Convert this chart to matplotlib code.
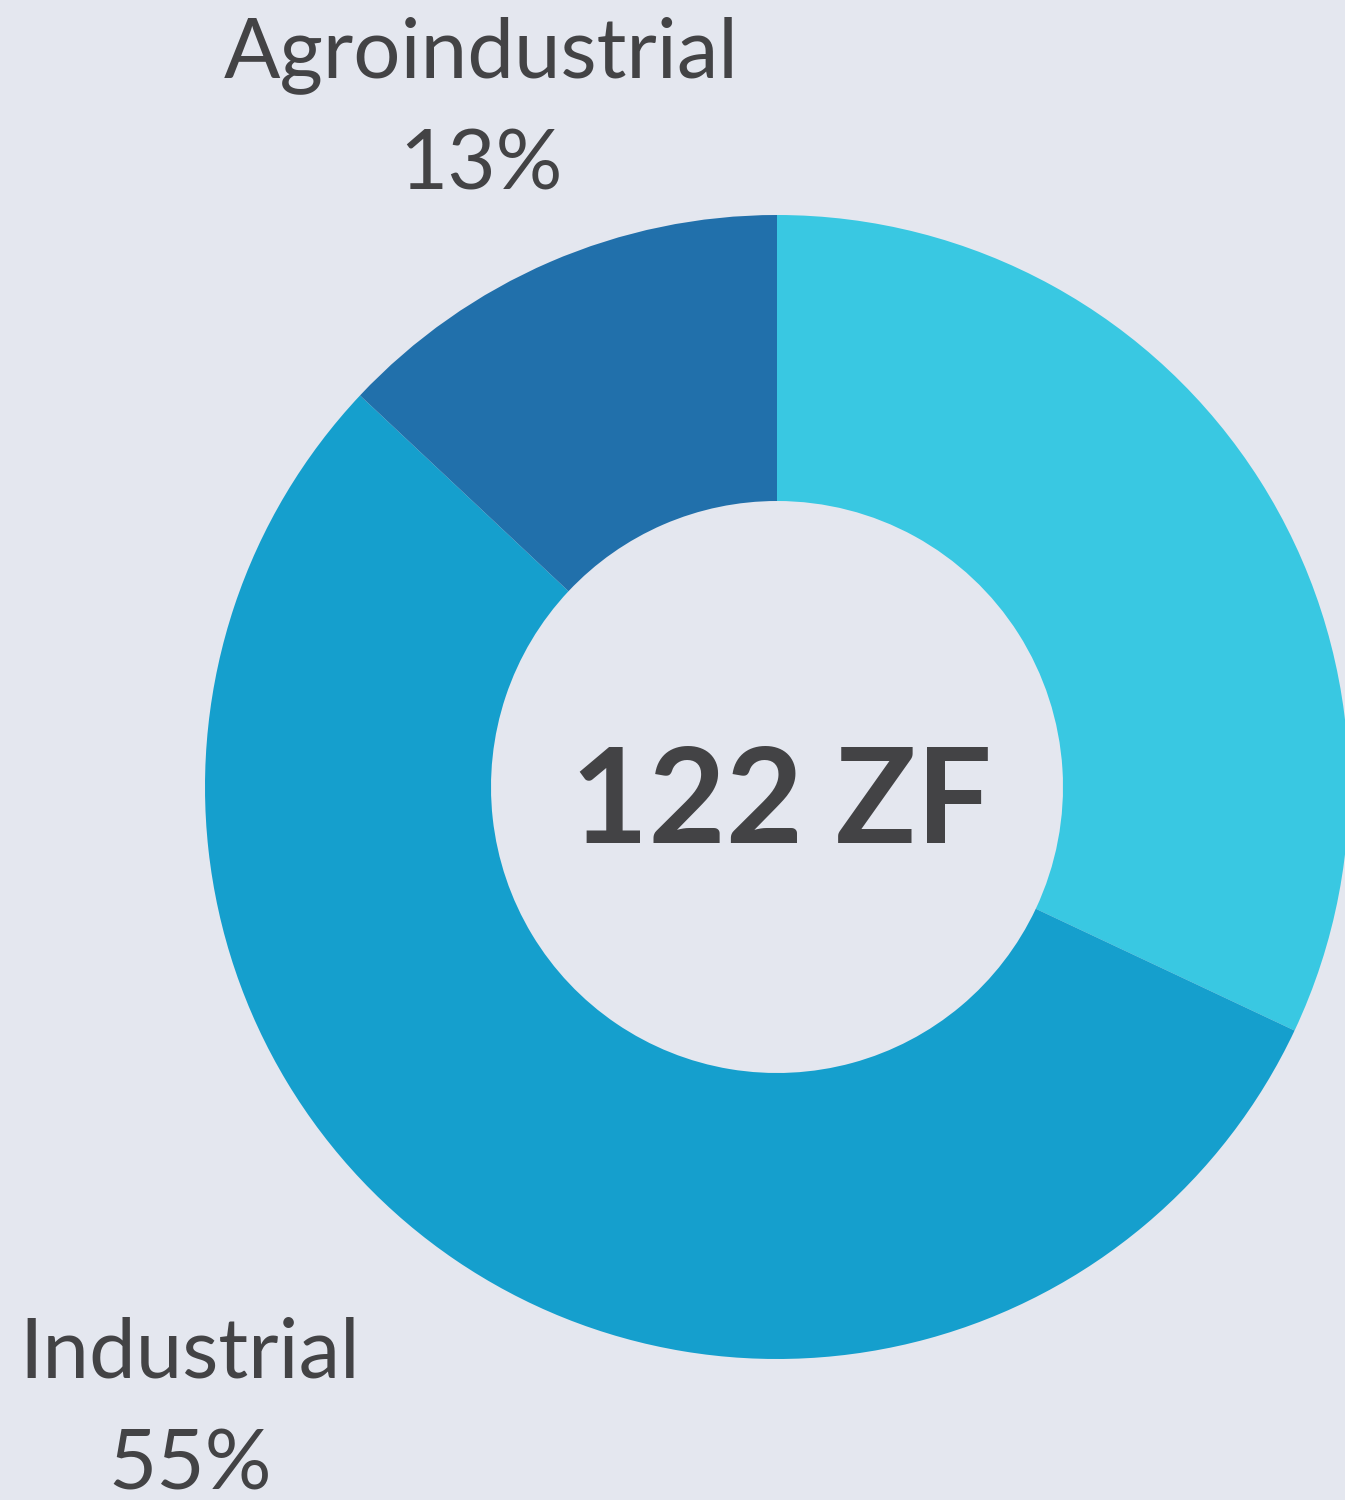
import matplotlib
matplotlib.use('Agg')
import matplotlib.pyplot as plt

# slices, clockwise from 12 o'clock (first one has no visible label)
shares = [32, 55, 13]
slice_colors = ['#39C8E2', '#159FCD', '#2170AB']
label_names = ['Industrial', 'Agroindustrial']
label_pcts = ['55%', '13%']
center_text = '122 ZF'

bg = '#E4E7EF'
ink = '#434345'

fig = plt.figure(figsize=(13.45, 15), dpi=100, facecolor=bg)
ax = fig.add_axes([0, 0, 1, 1])
ax.set_facecolor(bg)

ax.pie(shares, colors=slice_colors, startangle=90, counterclock=False,
       radius=572, center=(777, 713), frame=True,
       wedgeprops=dict(width=286, linewidth=0))
ax.set_xlim(0, 1345)
ax.set_ylim(0, 1500)
ax.set_aspect('equal')
ax.axis('off')

ax.text(781, 657, center_text, ha='center', va='baseline', fontsize=96,
        fontweight='bold', family='Lato', color=ink)

# outside labels: name on one line, percentage below (55% runs off the bottom like the original)
label_pos = [(190, 123, 10), (481, 1423, 1310)]
for name, pct, (x, y1, y2) in zip(label_names, label_pcts, label_pos):
    ax.text(x, y1, name, ha='center', va='baseline', fontsize=60,
            family='Lato', color=ink)
    ax.text(x, y2, pct, ha='center', va='baseline', fontsize=60,
            family='Lato', color=ink)

fig.savefig('out.png', dpi=100, facecolor=bg)
